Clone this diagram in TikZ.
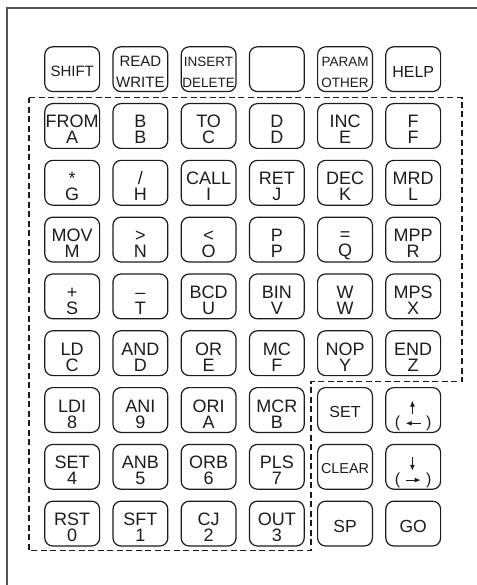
\documentclass[tikz,border=0pt]{standalone}
\usepackage{fontspec}
\setmainfont{Liberation Sans}
\usepackage{xcolor}
\usetikzlibrary{arrows.meta}
\definecolor{panelgray}{HTML}{555555}
\definecolor{keyink}{HTML}{1C1C1C}
\newcommand{\keyfont}{\fontsize{18}{16}\selectfont}
% two-line key label (main block)
\newcommand{\kl}[2]{\rule{0pt}{22pt}#1\\#2\rule[-2pt]{0pt}{2pt}}
% two-line key label (top row)
\newcommand{\kt}[2]{\rule{0pt}{16pt}#1\\#2\rule[-0.5pt]{0pt}{0.5pt}}
% one-line key label
\newcommand{\ko}[1]{\rule{0pt}{1em}#1}
% bracket line of the cursor keys
\newcommand{\kp}{\rule{0pt}{38pt}(\hspace{26pt})}
\tikzset{
  key/.style={draw=keyink, text=keyink, line width=1.2pt, rounded corners=8pt,
    minimum width=54.8pt, minimum height=44.8pt, inner sep=0pt, align=center,
    font=\keyfont},
  keyfs/.style={font=\fontsize{#1}{20.5}\selectfont},
  cursor/.style={draw=keyink, line width=1pt, -{Latex[length=6pt,width=5pt]}},
  panel/.style={draw=panelgray, line width=1.8pt},
  group/.style={draw=keyink, line width=1.2pt, dash pattern=on 6pt off 3.5pt}
}
\begin{document}
\begin{tikzpicture}[x=68.2pt, y=-56.8pt, >=stealth]
    \useasboundingbox (-1.0587,-1.2183) rectangle (5.935,9.081);

    % --- Outer panel edge ---
    \draw[panel] (-0.956,9.081) -- (-0.956,-1.077) -- (5.935,-1.077);

    % --- Top function row ---
    \node[key, keyfs=15]   (r0c0) at (0,0) {\ko{SHIFT}};
    \node[key, keyfs=15]   (r0c1) at (1,0) {\kt{READ}{WRITE}};
    \node[key, keyfs=13.5] (r0c2) at (2,0) {\kt{INSERT}{DELETE}};
    \node[key]             (r0c3) at (3,0) {};
    \node[key, keyfs=13.5] (r0c4) at (4,0) {\kt{PARAM}{OTHER}};
    \node[key, keyfs=16]   (r0c5) at (5,0) {\ko{HELP}};

    % --- Instruction / letter keys ---
    \node[key] (r1c0) at (0,1) {\kl{FROM}{A}};
    \node[key] (r1c1) at (1,1) {\kl{B}{B}};
    \node[key] (r1c2) at (2,1) {\kl{TO}{C}};
    \node[key] (r1c3) at (3,1) {\kl{D}{D}};
    \node[key] (r1c4) at (4,1) {\kl{INC}{E}};
    \node[key] (r1c5) at (5,1) {\kl{F}{F}};

    \node[key] (r2c0) at (0,2) {\kl{*}{G}};
    \node[key] (r2c1) at (1,2) {\kl{/}{H}};
    \node[key] (r2c2) at (2,2) {\kl{CALL}{I}};
    \node[key] (r2c3) at (3,2) {\kl{RET}{J}};
    \node[key] (r2c4) at (4,2) {\kl{DEC}{K}};
    \node[key] (r2c5) at (5,2) {\kl{MRD}{L}};

    \node[key] (r3c0) at (0,3) {\kl{MOV}{M}};
    \node[key] (r3c1) at (1,3) {\kl{>}{N}};
    \node[key] (r3c2) at (2,3) {\kl{<}{O}};
    \node[key] (r3c3) at (3,3) {\kl{P}{P}};
    \node[key] (r3c4) at (4,3) {\kl{=}{Q}};
    \node[key] (r3c5) at (5,3) {\kl{MPP}{R}};

    \node[key] (r4c0) at (0,4) {\kl{+}{S}};
    \node[key] (r4c1) at (1,4) {\kl{–}{T}};
    \node[key] (r4c2) at (2,4) {\kl{BCD}{U}};
    \node[key] (r4c3) at (3,4) {\kl{BIN}{V}};
    \node[key] (r4c4) at (4,4) {\kl{W}{W}};
    \node[key] (r4c5) at (5,4) {\kl{MPS}{X}};

    \node[key] (r5c0) at (0,5) {\kl{LD}{C}};
    \node[key] (r5c1) at (1,5) {\kl{AND}{D}};
    \node[key] (r5c2) at (2,5) {\kl{OR}{E}};
    \node[key] (r5c3) at (3,5) {\kl{MC}{F}};
    \node[key] (r5c4) at (4,5) {\kl{NOP}{Y}};
    \node[key] (r5c5) at (5,5) {\kl{END}{Z}};

    % --- Instruction / digit keys ---
    \node[key] (r6c0) at (0,6) {\kl{LDI}{8}};
    \node[key] (r6c1) at (1,6) {\kl{ANI}{9}};
    \node[key] (r6c2) at (2,6) {\kl{ORI}{A}};
    \node[key] (r6c3) at (3,6) {\kl{MCR}{B}};

    \node[key] (r7c0) at (0,7) {\kl{SET}{4}};
    \node[key] (r7c1) at (1,7) {\kl{ANB}{5}};
    \node[key] (r7c2) at (2,7) {\kl{ORB}{6}};
    \node[key] (r7c3) at (3,7) {\kl{PLS}{7}};

    \node[key] (r8c0) at (0,8) {\kl{RST}{0}};
    \node[key] (r8c1) at (1,8) {\kl{SFT}{1}};
    \node[key] (r8c2) at (2,8) {\kl{CJ}{2}};
    \node[key] (r8c3) at (3,8) {\kl{OUT}{3}};

    % --- Edit and cursor keys ---
    \node[key, keyfs=16]   (r6c4) at (4,6) {\ko{SET}};
    \node[key, keyfs=16]   (r6c5) at (5,6) {\kp};
    \node[key, keyfs=14.4] (r7c4) at (4,7) {\ko{CLEAR}};
    \node[key, keyfs=16]   (r7c5) at (5,7) {\kp};
    \node[key, keyfs=17.5] (r8c4) at (4,8) {\ko{SP}};
    \node[key, keyfs=17.5] (r8c5) at (5,8) {\ko{GO}};

    % cursor arrows: up / left, down / right
    \draw[cursor] ([xshift=-0.8pt,yshift=-4pt]r6c5.center) -- ([xshift=-0.8pt,yshift=9.5pt]r6c5.center);
    \draw[cursor] ([xshift=7.5pt,yshift=-13.3pt]r6c5.center) -- ([xshift=-7.5pt,yshift=-13.3pt]r6c5.center);
    \draw[cursor] ([xshift=-0.8pt,yshift=9.5pt]r7c5.center) -- ([xshift=-0.8pt,yshift=-4pt]r7c5.center);
    \draw[cursor] ([xshift=-7.5pt,yshift=-13.3pt]r7c5.center) -- ([xshift=7.5pt,yshift=-13.3pt]r7c5.center);

    % --- Dashed outline round the instruction keys ---
    \draw[group] (-0.633,0.5) -- (5.716,0.5) -- (5.716,5.5) -- (3.5,5.5)
                 -- (3.5,8.48) -- (-0.633,8.48) -- cycle;

\end{tikzpicture}
\end{document}
